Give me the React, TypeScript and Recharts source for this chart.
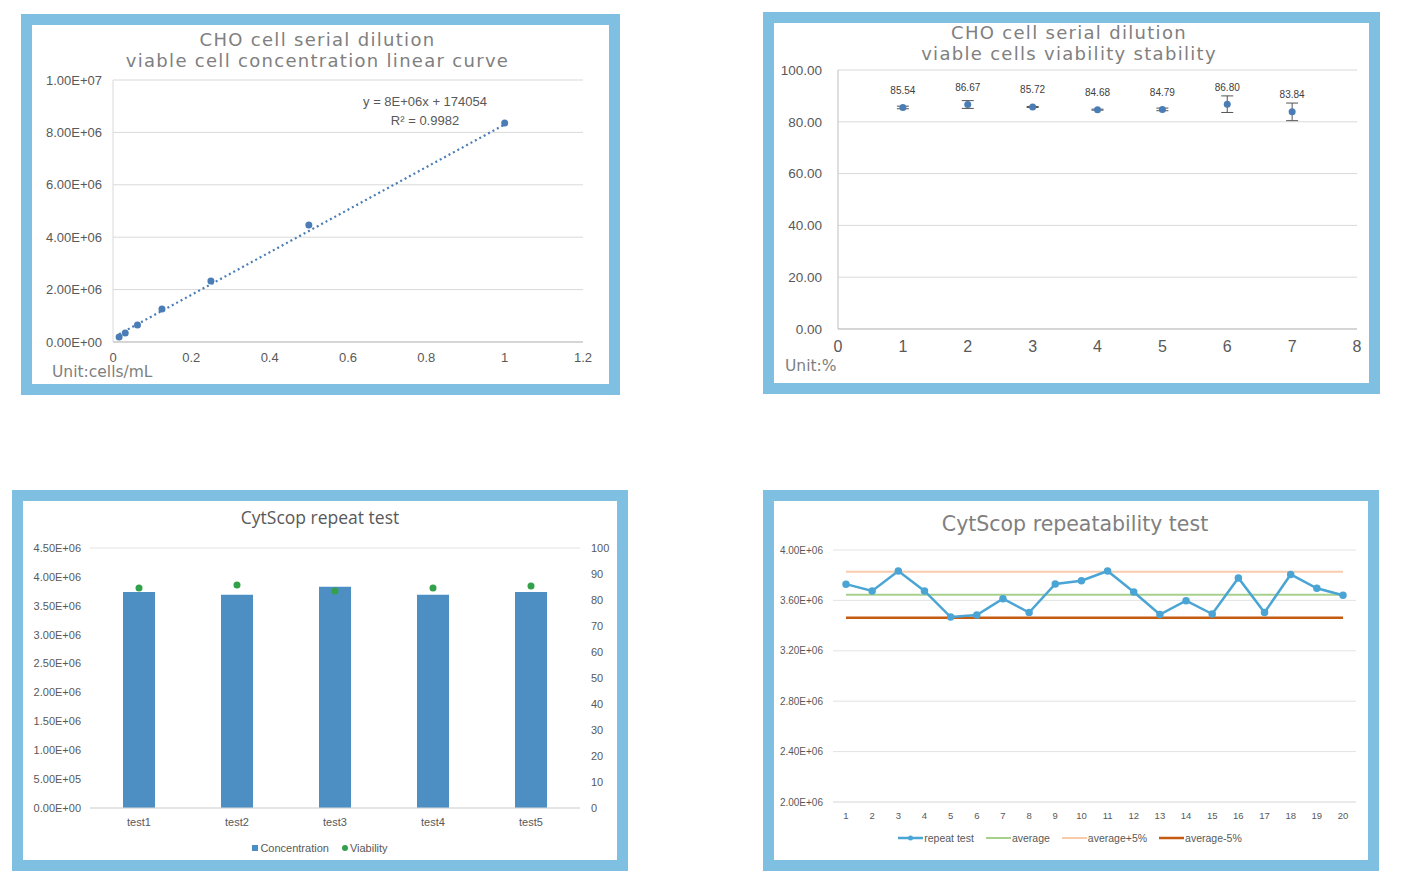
import React from 'react';
import {
  ScatterChart,
  Scatter,
  ComposedChart,
  LineChart,
  Bar,
  Line,
  XAxis,
  YAxis,
  CartesianGrid,
  ErrorBar,
  LabelList,
} from 'recharts';

// top left: concentration vs dilution
const dilutionFactors = [0.015625, 0.03125, 0.0625, 0.125, 0.25, 0.5, 1];
const concentrations = [190000, 340000, 650000, 1260000, 2330000, 4470000, 8360000];
const trendX = [0.015625, 1];
const trendY = [300000, 8300000];
const concXTicks = [0, 0.2, 0.4, 0.6, 0.8, 1, 1.2];
const concYTicks = [0, 2000000, 4000000, 6000000, 8000000, 10000000];

// top right: viability stability
const viabilityRuns = [1, 2, 3, 4, 5, 6, 7];
const viabilityMeans = [85.54, 86.67, 85.72, 84.68, 84.79, 86.8, 83.84];
const viabilityErrors = [0.5, 1.5, 0.2, 0.2, 0.5, 3.2, 3.4];
const viabXTicks = [0, 1, 2, 3, 4, 5, 6, 7, 8];
const viabYTicks = [0, 20, 40, 60, 80, 100];

// bottom left: repeat test
const repeatTests = ['test1', 'test2', 'test3', 'test4', 'test5'];
const repeatConcentration = [3740000, 3690000, 3830000, 3690000, 3740000];
const repeatViability = [84.6, 85.8, 83.5, 84.6, 85.4];
const repeatLeftTicks = [0, 500000, 1000000, 1500000, 2000000, 2500000, 3000000, 3500000, 4000000, 4500000];
const repeatRightTicks = [0, 10, 20, 30, 40, 50, 60, 70, 80, 90, 100];

// bottom right: repeatability
const runLabels = ['1', '2', '3', '4', '5', '6', '7', '8', '9', '10', '11', '12', '13', '14', '15', '16', '17', '18', '19', '20'];
const runValues = [
  3729000, 3675000, 3833000, 3675000, 3468000, 3484000, 3614000, 3504000, 3730000, 3756000,
  3833000, 3667000, 3488000, 3598000, 3492000, 3778000, 3504000, 3806000, 3696000, 3641000,
];
const averageValue = 3645000;
const averagePlus5 = 3827000;
const averageMinus5 = 3463000;
const repeatabilityTicks = [2000000, 2400000, 2800000, 3200000, 3600000, 4000000];

const BORDER = '#7fbfe1';
const AXIS_TEXT = '#595959';
const TITLE = '#808080';
const GRID = '#d9d9d9';
const FONT = '"Liberation Sans", Arial, sans-serif';
const TITLE_FONT = '"DejaVu Sans", "Open Sans", sans-serif';
const POINT = '#4a7db5';

const sci = (v: number) => {
  const [m, e] = Number(v).toExponential(2).split('e');
  const sign = e[0] === '-' ? '-' : '+';
  return `${m}E${sign}${e.replace(/[+-]/, '').padStart(2, '0')}`;
};

const concPoints = dilutionFactors.map((x, i) => ({ x, y: concentrations[i] }));
const trendPoints = trendX.map((x, i) => ({ x, y: trendY[i] }));
const viabPoints = viabilityRuns.map((x, i) => ({ x, y: viabilityMeans[i], err: viabilityErrors[i] }));
const repeatRows = repeatTests.map((name, i) => ({ name, conc: repeatConcentration[i], via: repeatViability[i] }));
const runRows = runLabels.map((run, i) => ({
  run,
  value: runValues[i],
  average: averageValue,
  upper: averagePlus5,
  lower: averageMinus5,
}));

const Panel = ({ x, y, w, h, children }: any) => (
  <div
    style={{
      position: 'absolute',
      left: x,
      top: y,
      width: w,
      height: h,
      border: `11px solid ${BORDER}`,
      boxSizing: 'border-box',
      background: '#fff',
    }}
  >
    {children}
  </div>
);

const Text = ({ style, children }: any) => (
  <div style={{ position: 'absolute', whiteSpace: 'nowrap', ...style }}>{children}</div>
);

const dot = (color: string, r: number) => (p: any) => <circle cx={p.cx} cy={p.cy} r={r} fill={color} />;

const lineLegend = [
  { name: 'repeat test', color: '#4aa5d5', width: 2.5, marker: true },
  { name: 'average', color: '#a8d08d', width: 2, marker: false },
  { name: 'average+5%', color: '#f8cbad', width: 2, marker: false },
  { name: 'average-5%', color: '#c55a11', width: 2.5, marker: false },
];

const twoLineTitle = {
  textAlign: 'center' as const,
  fontFamily: TITLE_FONT,
  fontSize: 18,
  lineHeight: '21px',
  letterSpacing: 1.3,
  color: TITLE,
};

export default function App() {
  return (
    <div style={{ position: 'absolute', left: 0, top: 0, width: 1404, height: 887, background: '#fff' }}>
      {/* top left */}
      <Panel x={21} y={14} w={599} h={381}>
        <ScatterChart width={577} height={359} margin={{ top: 55, right: 26, bottom: 12, left: 0 }}>
          <CartesianGrid vertical={false} stroke={GRID} />
          <XAxis
            type="number"
            dataKey="x"
            domain={[0, 1.2]}
            ticks={concXTicks}
            interval={0}
            height={30}
            tickLine={false}
            tickMargin={5}
            axisLine={{ stroke: '#bfbfbf' }}
            tick={{ fill: AXIS_TEXT, fontSize: 13, fontFamily: FONT }}
          />
          <YAxis
            type="number"
            dataKey="y"
            domain={[0, 10000000]}
            ticks={concYTicks}
            interval={0}
            width={81}
            tickLine={false}
            tickMargin={5}
            axisLine={{ stroke: GRID }}
            tickFormatter={sci}
            tick={{ fill: AXIS_TEXT, fontSize: 13, fontFamily: FONT }}
          />
          <Scatter
            data={trendPoints}
            line={{ stroke: POINT, strokeWidth: 2.2, strokeDasharray: '2 3' }}
            shape={() => <g />}
            isAnimationActive={false}
          />
          <Scatter data={concPoints} shape={dot(POINT, 3.5)} isAnimationActive={false} />
        </ScatterChart>
        <Text style={{ left: 0, width: 571, top: 4, ...twoLineTitle }}>
          <div>CHO cell serial dilution</div>
          <div>viable cell concentration linear curve</div>
        </Text>
        <Text style={{ left: 293, width: 200, top: 67, textAlign: 'center', fontFamily: FONT, fontSize: 13, lineHeight: '19px', color: AXIS_TEXT }}>
          <div>y = 8E+06x + 174054</div>
          <div>R² = 0.9982</div>
        </Text>
        <Text style={{ left: 20, top: 340, fontFamily: TITLE_FONT, fontSize: 15.5, color: TITLE, lineHeight: '14px' }}>
          Unit:cells/mL
        </Text>
      </Panel>

      {/* top right */}
      <Panel x={763} y={12} w={617} h={382}>
        <ScatterChart width={595} height={360} margin={{ top: 47, right: 12, bottom: 24, left: 0 }}>
          <CartesianGrid vertical={false} stroke={GRID} />
          <XAxis
            type="number"
            dataKey="x"
            domain={[0, 8]}
            ticks={viabXTicks}
            interval={0}
            height={30}
            tickLine={false}
            tickMargin={6}
            axisLine={{ stroke: '#bfbfbf' }}
            tick={{ fill: AXIS_TEXT, fontSize: 16, fontFamily: FONT }}
          />
          <YAxis
            type="number"
            dataKey="y"
            domain={[0, 100]}
            ticks={viabYTicks}
            interval={0}
            width={64}
            tickLine={false}
            tickMargin={10}
            axisLine={{ stroke: '#bfbfbf' }}
            tickFormatter={(v: number) => v.toFixed(2)}
            tick={{ fill: AXIS_TEXT, fontSize: 13.5, fontFamily: FONT }}
          />
          <Scatter data={viabPoints} shape={dot(POINT, 3.5)} isAnimationActive={false}>
            <ErrorBar dataKey="err" direction="y" width={6} stroke="#555555" strokeWidth={1} />
            <LabelList
              dataKey="y"
              position="top"
              offset={9}
              formatter={(v: any) => Number(v).toFixed(2)}
              fill="#404040"
              fontSize={10}
              fontFamily={FONT}
            />
          </Scatter>
        </ScatterChart>
        <Text style={{ left: 0, width: 590, top: -1, ...twoLineTitle }}>
          <div>CHO cell serial dilution</div>
          <div>viable cells viability stability</div>
        </Text>
        <Text style={{ left: 11, top: 336, fontFamily: TITLE_FONT, fontSize: 15.5, color: TITLE, lineHeight: '14px' }}>
          Unit:%
        </Text>
      </Panel>

      {/* bottom left */}
      <Panel x={12} y={490} w={616} h={381}>
        <ComposedChart width={594} height={359} data={repeatRows} margin={{ top: 47, right: 0, bottom: 22, left: 0 }}>
          <CartesianGrid vertical={false} stroke="#e3e3e3" />
          <XAxis
            dataKey="name"
            height={30}
            tickLine={false}
            tickMargin={4}
            axisLine={{ stroke: '#d9d9d9' }}
            tick={{ fill: AXIS_TEXT, fontSize: 11, fontFamily: FONT }}
          />
          <YAxis
            yAxisId="left"
            domain={[0, 4500000]}
            ticks={repeatLeftTicks}
            interval={0}
            width={67}
            tickLine={false}
            axisLine={false}
            tickMargin={3}
            tickFormatter={sci}
            tick={{ fill: AXIS_TEXT, fontSize: 11, fontFamily: FONT }}
          />
          <YAxis
            yAxisId="right"
            orientation="right"
            domain={[0, 100]}
            ticks={repeatRightTicks}
            interval={0}
            width={37}
            tickLine={false}
            axisLine={false}
            tickMargin={5}
            tick={{ fill: AXIS_TEXT, fontSize: 11, fontFamily: FONT }}
          />
          <Bar yAxisId="left" dataKey="conc" barSize={32} fill="#4e8fc3" isAnimationActive={false} />
          <Line
            yAxisId="right"
            dataKey="via"
            stroke="#33a04a"
            strokeWidth={0}
            dot={{ r: 3.5, fill: '#33a04a', stroke: 'none' }}
            isAnimationActive={false}
          />
        </ComposedChart>
        <Text style={{ left: 0, width: 594, top: 5, textAlign: 'center', fontFamily: '"Open Sans", sans-serif', fontSize: 17.5, lineHeight: '22px', color: AXIS_TEXT }}>
          CytScop repeat test
        </Text>
        <Text style={{ left: 0, width: 594, top: 341, display: 'flex', justifyContent: 'center', alignItems: 'center', fontFamily: FONT, fontSize: 11, color: AXIS_TEXT }}>
          <span style={{ width: 6, height: 6, background: '#4e8fc3', marginRight: 2 }} />
          <span style={{ marginRight: 13 }}>Concentration</span>
          <span style={{ width: 6, height: 6, borderRadius: 3, background: '#33a04a', marginRight: 2 }} />
          <span>Viability</span>
        </Text>
      </Panel>

      {/* bottom right */}
      <Panel x={763} y={490} w={616} h={381}>
        <LineChart width={594} height={359} data={runRows} margin={{ top: 49, right: 12, bottom: 28, left: 0 }}>
          <CartesianGrid vertical={false} stroke="#e3e3e3" />
          <XAxis
            dataKey="run"
            interval={0}
            height={30}
            padding={{ left: 13, right: 13 }}
            tickLine={false}
            tickMargin={4}
            axisLine={{ stroke: '#e3e3e3' }}
            tick={{ fill: AXIS_TEXT, fontSize: 9.5, fontFamily: FONT }}
          />
          <YAxis
            domain={[2000000, 4000000]}
            ticks={repeatabilityTicks}
            interval={0}
            width={59}
            tickLine={false}
            axisLine={false}
            tickMargin={4}
            tickFormatter={sci}
            tick={{ fill: AXIS_TEXT, fontSize: 10, fontFamily: FONT }}
          />
          <Line dataKey="upper" stroke="#f8cbad" strokeWidth={2} dot={false} isAnimationActive={false} />
          <Line dataKey="average" stroke="#a8d08d" strokeWidth={2} dot={false} isAnimationActive={false} />
          <Line dataKey="lower" stroke="#c55a11" strokeWidth={2.5} dot={false} isAnimationActive={false} />
          <Line
            dataKey="value"
            stroke="#4aa5d5"
            strokeWidth={2.5}
            dot={{ r: 2.5, fill: '#4aa5d5', stroke: '#4aa5d5' }}
            isAnimationActive={false}
          />
        </LineChart>
        <Text style={{ left: 0, width: 602, top: 10, textAlign: 'center', fontFamily: TITLE_FONT, fontSize: 20.5, lineHeight: '26px', color: TITLE }}>
          CytScop repeatability test
        </Text>
        <Text style={{ left: 5, width: 594, top: 331, display: 'flex', justifyContent: 'center', alignItems: 'center', fontFamily: FONT, fontSize: 10.5, color: AXIS_TEXT }}>
          {lineLegend.map((item) => (
            <span key={item.name} style={{ display: 'flex', alignItems: 'center', marginRight: 12 }}>
              <svg width={25} height={8}>
                <line x1={0} y1={4} x2={25} y2={4} stroke={item.color} strokeWidth={item.width} />
                {item.marker && <circle cx={12.5} cy={4} r={2.5} fill={item.color} />}
              </svg>
              <span style={{ marginLeft: 1 }}>{item.name}</span>
            </span>
          ))}
        </Text>
      </Panel>
    </div>
  );
}
